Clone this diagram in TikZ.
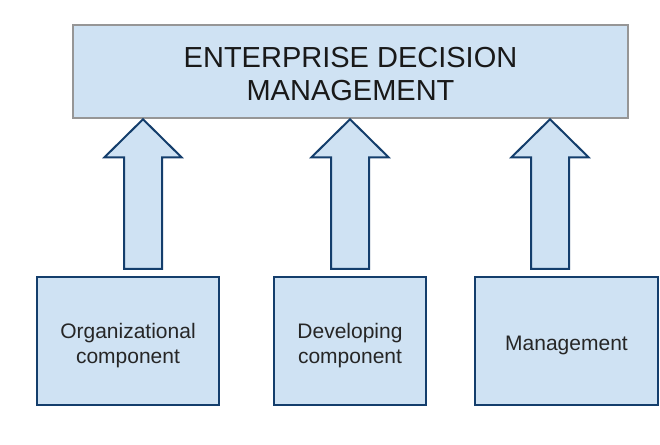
\documentclass[tikz,border=0pt]{standalone}
\usepackage{fontspec}
\setmainfont{Liberation Sans}
\usetikzlibrary{calc}

\definecolor{boxfill}{RGB}{207,226,243}
\definecolor{boxline}{RGB}{20,62,108}
\definecolor{topline}{RGB}{150,150,150}

% invisible strut that pushes the first line down
\newcommand{\lowerby}[1]{\rule{0pt}{#1}}

\tikzset{
  headbox/.style={draw=topline, line width=2.5pt, fill=boxfill, align=center,
    minimum width=555pt, minimum height=93pt, inner sep=0pt,
    font=\fontsize{29}{33}\selectfont, text=black!90},
  partbox/.style={draw=boxline, line width=2.5pt, fill=boxfill, align=center,
    minimum height=128pt, inner sep=0pt,
    font=\fontsize{21}{25}\selectfont, text=black!85},
  blockarrow/.style={draw=boxline, line width=2pt, fill=boxfill, line join=miter}
}

\begin{document}
\begin{tikzpicture}[x=1pt, y=-1pt]
  % Fix the page to the reference size
  \path[use as bounding box, fill=white] (0,0) rectangle (660,444);

  % Draw the top box
  \node[headbox] (edm) at (350.5,71.5) {\lowerby{25pt}ENTERPRISE DECISION\\MANAGEMENT};

  % Draw the three boxes at the bottom
  \node[partbox, minimum width=182pt] (org) at (128,341) {\lowerby{23.5pt}Organizational\\component};
  \node[partbox, minimum width=152pt] (dev) at (350,341) {\lowerby{23.5pt}Developing\\component};
  \node[partbox, minimum width=183pt] (mgmt) at (566.5,341) {\lowerby{23.5pt}Management};

  % Draw the block arrows from each box up to the top box
  \foreach \x/\b in {143/org,350/dev,550/mgmt} {
    \path (edm.south -| \x,0) coordinate (tip-\b)
          (\b.north -| \x,0) ++(0,-7) coordinate (base-\b);
    \draw[blockarrow] (tip-\b) -- ++(38.5,38) -- ++(-19.5,0) |- (base-\b)
      -- ++(-19,0) |- ($(tip-\b)+(-38.5,38)$) -- cycle;
  }

\end{tikzpicture}
\end{document}
